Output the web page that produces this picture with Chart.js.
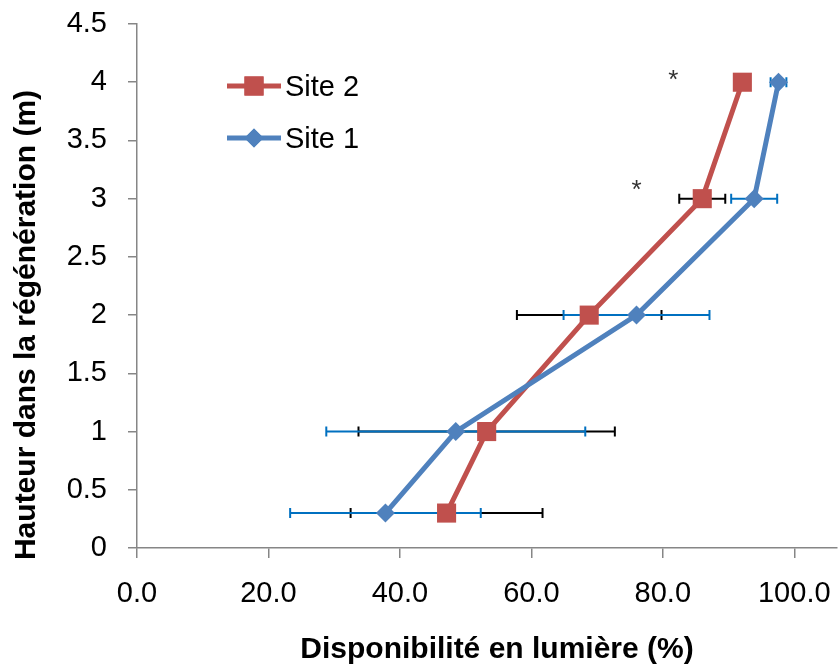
<!DOCTYPE html>
<html>
<head>
<meta charset="utf-8">
<script src="https://cdn.jsdelivr.net/npm/chart.js@4"></script>
<style>
  html, body { margin: 0; padding: 0; background: #fff; }
  #wrap { width: 838px; height: 666px; }
</style>
</head>
<body>
<div id="wrap"><canvas id="graph"></canvas></div>
<script>
// hauteurs (m) et disponibilite en lumiere (%)
const hauteurs = [0.3, 1, 2, 3, 4];
const site1 = [37.8, 48.5, 76.0, 93.9, 97.6];
const site1Err = [14.5, 19.7, 11.1, 3.5, 1.2];
const site2 = [47.1, 53.2, 68.8, 86.0, 92.1];
const site2Err = [14.6, 19.5, 11.0, 3.5, 1.0];
// graduations de l'axe x
const xTicks = [0, 20, 40, 60, 80, 100];
// asterisques (position en unites du graphique)
const etoilesX = [81.6, 76.0];
const etoilesY = [4.05, 3.1];

const rouge = '#C0504D';
const bleu = '#4F81BD';
const gris = '#868686';
const police = 'Liberation Sans, Arial, sans-serif';

function points(xs) {
  return xs.map((v, i) => ({ x: v, y: hauteurs[i] }));
}

// pas de marge automatique autour des axes
function sansMarge(scale) {
  scale.paddingTop = 0;
  scale.paddingBottom = 0;
  scale.paddingLeft = 0;
  scale.paddingRight = 0;
}

// barres d'erreur, titres, legende
const dessins = {
  id: 'dessins',
  beforeDatasetsDraw(chart) {
    const ctx = chart.ctx;
    const sx = chart.scales.x, sy = chart.scales.y;
    const series = [
      { vals: site2, err: site2Err, color: '#000000' },
      { vals: site1, err: site1Err, color: '#0070C0' }
    ];
    ctx.save();
    ctx.lineWidth = 2;
    series.forEach(s => {
      ctx.strokeStyle = s.color;
      s.vals.forEach((v, i) => {
        const y = sy.getPixelForValue(hauteurs[i]);
        const x1 = sx.getPixelForValue(v - s.err[i]);
        const x2 = sx.getPixelForValue(v + s.err[i]);
        ctx.beginPath();
        ctx.moveTo(x1, y); ctx.lineTo(x2, y);
        ctx.moveTo(x1, y - 5); ctx.lineTo(x1, y + 5);
        ctx.moveTo(x2, y - 5); ctx.lineTo(x2, y + 5);
        ctx.stroke();
      });
    });
    ctx.restore();
  },
  afterDraw(chart) {
    const ctx = chart.ctx;
    const sx = chart.scales.x, sy = chart.scales.y;
    ctx.save();
    // asterisques
    ctx.fillStyle = '#333';
    ctx.font = '26px ' + police;
    ctx.textAlign = 'center';
    ctx.textBaseline = 'middle';
    etoilesX.forEach((v, i) => {
      ctx.fillText('*', sx.getPixelForValue(v), sy.getPixelForValue(etoilesY[i]) + 4);
    });

    // titres des axes
    ctx.fillStyle = '#000';
    ctx.font = 'bold 30px ' + police;
    ctx.fillText('Disponibilité en lumière (%)', 497, 650);
    ctx.save();
    ctx.translate(27, 325);
    ctx.rotate(-Math.PI / 2);
    ctx.fillText('Hauteur dans la régénération (m)', 0, 0);
    ctx.restore();

    // legende
    const items = [
      { label: 'Site 2', color: rouge, style: 'rect', r: 13.5, y: 86 },
      { label: 'Site 1', color: bleu, style: 'rectRot', r: 9.5, y: 138 }
    ];
    items.forEach(it => {
      ctx.strokeStyle = it.color;
      ctx.lineWidth = 5;
      ctx.beginPath();
      ctx.moveTo(227, it.y); ctx.lineTo(281, it.y);
      ctx.stroke();
      ctx.fillStyle = it.color;
      Chart.helpers.drawPoint(ctx, { pointStyle: it.style, radius: it.r, borderWidth: 0 }, 254, it.y);
      ctx.fill();
      ctx.fillStyle = '#000';
      ctx.font = '29px ' + police;
      ctx.textAlign = 'left';
      ctx.textBaseline = 'middle';
      ctx.fillText(it.label, 285, it.y + 2);
    });
    ctx.restore();
  }
};

const ctx = document.getElementById('graph').getContext('2d');
new Chart(ctx, {
  type: 'scatter',
  data: {
    datasets: [
      {
        label: 'Site 2',
        data: points(site2),
        showLine: true,
        borderColor: rouge,
        backgroundColor: rouge,
        borderWidth: 5,
        pointStyle: 'rect',
        pointRadius: 13.5,
        pointBorderWidth: 0,
        order: 2
      },
      {
        label: 'Site 1',
        data: points(site1),
        showLine: true,
        borderColor: bleu,
        backgroundColor: bleu,
        borderWidth: 5,
        pointStyle: 'rectRot',
        pointRadius: 9.5,
        pointBorderWidth: 0,
        order: 1
      }
    ]
  },
  options: {
    responsive: true,
    maintainAspectRatio: false,
    animation: false,
    layout: { autoPadding: false, padding: { top: 24, right: 1, left: 0, bottom: 0 } },
    plugins: {
      legend: { display: false },
      tooltip: { enabled: false }
    },
    scales: {
      x: {
        type: 'linear',
        min: 0,
        max: 106.5,
        afterBuildTicks: scale => {
          scale.ticks = xTicks.map(v => ({ value: v }));
        },
        afterFit: scale => { scale.height = 118; sansMarge(scale); },
        ticks: {
          autoSkip: false,
          maxRotation: 0,
          padding: 6,
          color: '#000',
          font: { family: police, size: 29, lineHeight: 2.05 },
          callback: v => v.toFixed(1)
        },
        grid: { drawOnChartArea: false, drawTicks: true, tickLength: 10, color: gris, lineWidth: 1.5 },
        border: { color: gris, width: 1.5 }
      },
      y: {
        type: 'linear',
        min: 0,
        max: 4.5,
        afterFit: scale => { scale.width = 137; sansMarge(scale); },
        ticks: {
          stepSize: 0.5,
          padding: 21,
          color: '#000',
          font: { family: police, size: 29 },
          callback: v => String(Math.round(v * 10) / 10)
        },
        grid: { drawOnChartArea: false, drawTicks: true, tickLength: 9, color: gris, lineWidth: 1.5 },
        border: { color: gris, width: 1.5 }
      }
    }
  },
  plugins: [dessins]
});
</script>
</body>
</html>
